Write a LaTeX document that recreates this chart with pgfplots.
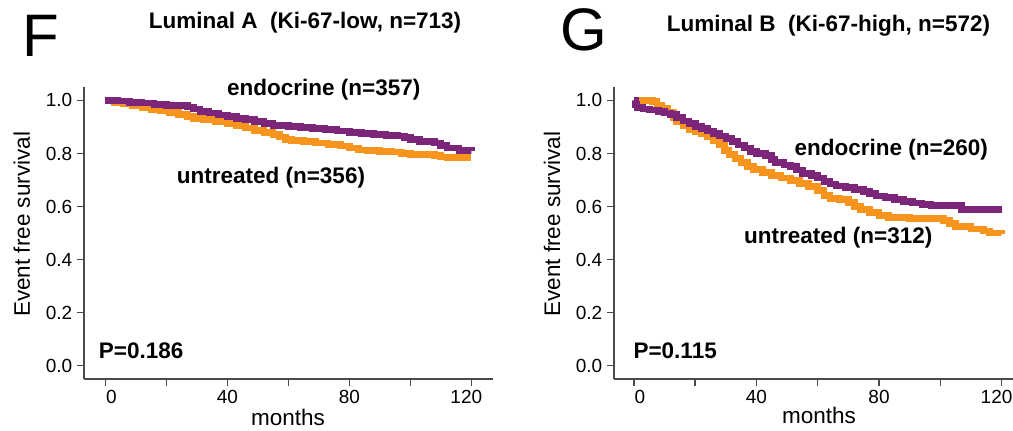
\documentclass[border=0pt]{standalone}
\usepackage{pgfplots}
\pgfplotsset{compat=1.18}
\usepackage{fontspec}
\setmainfont{Liberation Sans}
\definecolor{endo}{HTML}{7B2679}
\definecolor{untr}{HTML}{F7941E}
\definecolor{axc}{HTML}{4A4A4A}

\pgfplotstableread{
m s
0 1.0
3 0.993
6 0.987
9 0.98
12 0.973
15 0.965
18 0.96
21 0.955
24 0.948
27 0.94
29 0.933
32 0.927
36 0.92
40 0.912
43 0.905
46 0.896
49 0.887
52 0.88
55 0.872
57 0.862
59 0.852
61 0.848
65 0.845
69 0.84
73 0.835
77 0.828
80 0.82
83 0.813
86 0.81
90 0.808
94 0.805
97 0.8
100 0.797
104 0.795
108 0.792
110 0.787
112 0.784
120 0.784
}\untrA

\pgfplotstableread{
m s
0 1.0
4 0.998
8 0.993
12 0.99
16 0.985
20 0.982
25 0.98
27 0.975
29 0.968
31 0.958
34 0.952
37 0.945
40 0.94
43 0.933
46 0.928
49 0.92
52 0.912
55 0.905
60 0.902
64 0.897
68 0.895
72 0.89
76 0.885
80 0.88
84 0.875
88 0.872
92 0.868
96 0.866
98 0.86
100 0.852
103 0.845
108 0.84
110 0.83
112 0.82
116 0.812
120 0.81
}\endoA

\pgfplotstableread{
m s
0 1.0
6 0.995
7.5 0.98
9 0.97
11 0.955
13 0.935
14 0.92
16 0.905
18 0.89
20 0.882
22 0.875
24 0.865
26 0.85
28 0.832
29.5 0.812
31 0.795
33 0.78
35 0.765
37 0.75
39 0.74
42 0.728
45 0.718
48 0.708
51 0.698
54 0.688
57 0.675
60 0.66
62 0.642
64 0.63
67 0.626
70 0.614
72 0.6
74 0.588
77 0.578
80 0.565
83 0.558
90 0.555
97 0.555
101 0.548
103 0.535
105 0.525
110 0.515
114 0.508
116 0.5
120 0.498
}\untrB

\pgfplotstableread{
m s
0 1.0
0.5 0.985
1 0.972
3 0.968
5 0.964
8 0.958
10 0.953
12 0.946
14 0.935
16 0.922
18 0.912
20 0.902
22 0.894
24 0.885
26 0.876
28 0.866
30 0.856
32 0.845
34 0.832
36 0.82
38 0.808
40 0.8
43 0.792
45 0.778
46 0.765
49 0.757
51 0.75
53 0.738
55 0.725
58 0.717
60 0.708
62 0.695
64 0.685
66 0.678
69 0.672
72 0.665
75 0.657
77 0.648
79 0.64
82 0.633
85 0.626
88 0.618
91 0.613
94 0.608
97 0.604
106 0.604
107 0.588
120 0.588
}\endoB

\pgfplotsset{
  kmaxis/.style={
    scale only axis,
    anchor=south west,
    height=218.9pt,
    ymin=-0.05, ymax=1.05,
    xmax=127,
    axis x line=bottom, axis y line=left,
    axis line style={-, axc, line width=1.1pt},
    tick style={axc, line width=1.1pt},
    tick align=outside,
    major tick length=5.25pt,
    xtick={0,20,...,120},
    xticklabels={\hspace*{9pt}0,,40,,80,,\hspace*{-7.5pt}120},
    ytick={0,0.2,...,1.0},
    yticklabel style={/pgf/number format/.cd, fixed, fixed zerofill, precision=1},
    /pgf/number format/assume math mode=true,
    ticklabel style={font=\fontsize{14.25}{17}\selectfont, text=black},
    label style={font=\fontsize{16.875}{20}\selectfont},
    ylabel={Event free survival},
    xlabel={months},
    clip=false,
  },
  kmline/.style={const plot, line width=5pt, line join=miter, no marks},
}

\begin{document}
\begin{tikzpicture}
\path[use as bounding box] (0,0) rectangle (759.75pt,323.25pt);

% Panel F
\begin{axis}[kmaxis, at={(63pt,39pt)}, width=306.5pt, xmin=-7,
  ylabel style={at={(axis description cs:-0.152,0.53)}, anchor=center},
  xlabel style={at={(axis description cs:0.499,-0.158)}, anchor=base}]
\addplot[kmline, untr] table[x=m, y=s] {\untrA};
\addplot[kmline, endo] table[x=m, y=s] {\endoA};
\node[anchor=base, font=\bfseries\fontsize{16.875}{20}\selectfont] at (axis cs:71.6,1.019) {endocrine (n=357)};
\node[anchor=base, font=\bfseries\fontsize{16.875}{20}\selectfont] at (axis cs:54.3,0.686) {untreated (n=356)};
\node[anchor=base west, inner sep=0pt, font=\bfseries\fontsize{16.875}{20}\selectfont] at (axis cs:-2.2,0.026) {P=0.186};
\end{axis}

% Panel G
\begin{axis}[kmaxis, at={(460.5pt,39pt)}, width=306.75pt, xmin=-6.5,
  ylabel style={at={(axis description cs:-0.1516,0.531)}, anchor=center},
  xlabel style={at={(axis description cs:0.501,-0.152)}, anchor=base}]
\addplot[kmline, untr] table[x=m, y=s] {\untrB};
\addplot[kmline, endo] table[x=m, y=s] {\endoB};
\node[anchor=base, font=\bfseries\fontsize{16.875}{20}\selectfont] at (axis cs:84.0,0.794) {endocrine (n=260)};
\node[anchor=base, font=\bfseries\fontsize{16.875}{20}\selectfont] at (axis cs:66.7,0.46) {untreated (n=312)};
\node[anchor=base west, inner sep=0pt, font=\bfseries\fontsize{16.875}{20}\selectfont] at (axis cs:-0.2,0.026) {P=0.115};
\end{axis}

% Panel letters and titles
\node[anchor=base west, inner sep=0pt, font=\fontsize{45}{50}\selectfont] at (16.5pt,280.5pt) {F};
\node[anchor=base west, inner sep=0pt, font=\fontsize{45}{50}\selectfont] at (420pt,285pt) {G};
\node[anchor=base, inner sep=0pt, font=\bfseries\fontsize{16.875}{20}\selectfont] at (228.75pt,302pt) {Luminal A\ \ (Ki-67-low, n=713)};
\node[anchor=base, inner sep=0pt, font=\bfseries\fontsize{16.875}{20}\selectfont] at (621.4pt,299.5pt) {Luminal B\ \ (Ki-67-high, n=572)};
\end{tikzpicture}
\end{document}
